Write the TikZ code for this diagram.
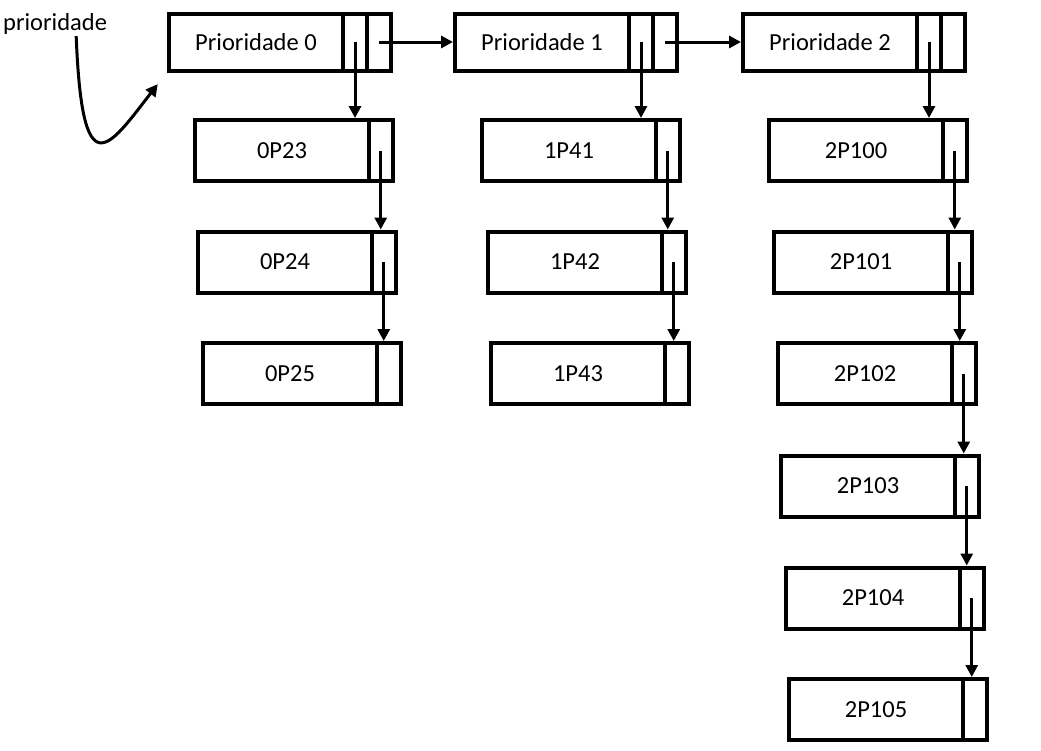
\documentclass[tikz,border=0pt]{standalone}
\usepackage{fontspec}
\setmainfont{Carlito}
\usetikzlibrary{positioning,calc,arrows.meta}
\tikzset{
	% estilos dos nós
	pri/.style = {rectangle, draw=black, line width=4pt,
	              outer sep=0pt, inner sep=0pt, anchor=west,
	              minimum width=174pt, minimum height=57pt,
	              font=\fontsize{24.5}{30}\selectfont},
	proc/.style = {pri, minimum height=61pt},
	hcel/.style = {rectangle, draw=black, line width=4pt,
	               outer sep=0pt, inner sep=0pt,
	               minimum width=24pt, minimum height=57pt},
	lcel/.style = {hcel, minimum width=23.5pt, minimum height=61pt},
	rotulo/.style = {inner sep=0pt, anchor=base west,
	                 font=\fontsize{24.5}{30}\selectfont},
	seta/.style = {line width=3pt, shorten >=2pt,
	               -{Triangle[length=12pt, width=12pt]}}
}
\begin{document}
\begin{tikzpicture}[x=1pt, y=-1pt]
	\useasboundingbox (0,0) rectangle (1041,750);

	\node (lbl) [rotulo] at (3,30) {prioridade};

	% cabeçalhos
	\node (pri0)  [pri] at (169,42) {Prioridade 0};
	\node (pri0a) [hcel, right=0pt of pri0]  {};
	\node (pri0b) [hcel, right=0pt of pri0a] {};
	\node (pri1)  [pri] at (455,42) {Prioridade 1};
	\node (pri1a) [hcel, right=0pt of pri1]  {};
	\node (pri1b) [hcel, right=0pt of pri1a] {};
	\node (pri2)  [pri] at (743,42) {Prioridade 2};
	\node (pri2a) [hcel, right=0pt of pri2]  {};
	\node (pri2b) [hcel, right=0pt of pri2a] {};

	% prioridade 0
	\node (p023)  [proc] at (195,150.5) {0P23};
	\node (p023c) [lcel, right=0pt of p023] {};
	\node (p024)  [proc] at (198,262)   {0P24};
	\node (p024c) [lcel, right=0pt of p024] {};
	\node (p025)  [proc] at (203,373.5) {0P25};
	\node (p025c) [lcel, right=0pt of p025] {};

	% prioridade 1
	\node (p141)  [proc] at (482,150.5) {1P41};
	\node (p141c) [lcel, right=0pt of p141] {};
	\node (p142)  [proc] at (488,262)   {1P42};
	\node (p142c) [lcel, right=0pt of p142] {};
	\node (p143)  [proc] at (491,373.5) {1P43};
	\node (p143c) [lcel, right=0pt of p143] {};

	% prioridade 2
	\node (p2100)  [proc] at (769,150.5) {2P100};
	\node (p2100c) [lcel, right=0pt of p2100] {};
	\node (p2101)  [proc] at (774,262)   {2P101};
	\node (p2101c) [lcel, right=0pt of p2101] {};
	\node (p2102)  [proc] at (778,373.5) {2P102};
	\node (p2102c) [lcel, right=0pt of p2102] {};
	\node (p2103)  [proc] at (781,486)   {2P103};
	\node (p2103c) [lcel, right=0pt of p2103] {};
	\node (p2104)  [proc] at (786,598)   {2P104};
	\node (p2104c) [lcel, right=0pt of p2104] {};
	\node (p2105)  [proc] at (789,709.5) {2P105};
	\node (p2105c) [lcel, right=0pt of p2105] {};

	% ligações
	\draw[seta] ([xshift=-31pt, yshift=-2pt]lbl.south east)
	    .. controls +(6,153) and +(-51,66) ..
	    ([xshift=-10pt, yshift=-12pt]pri0.south west);
	\draw[seta] (pri0b.center) -- (pri1.west);
	\draw[seta] (pri1b.center) -- (pri2.west);
	\draw[seta] (pri0a.center) -- (pri0a |- p023.north);
	\draw[seta] (pri1a.center) -- (pri1a |- p141.north);
	\draw[seta] (pri2a.center) -- (pri2a |- p2100.north);

	\draw[seta] (p023c.center) -- (p023c |- p024.north);
	\draw[seta] (p024c.center) -- (p024c |- p025.north);
	\draw[seta] (p141c.center) -- (p141c |- p142.north);
	\draw[seta] (p142c.center) -- (p142c |- p143.north);
	\draw[seta] (p2100c.center) -- (p2100c |- p2101.north);
	\draw[seta] (p2101c.center) -- (p2101c |- p2102.north);
	\draw[seta] (p2102c.center) -- (p2102c |- p2103.north);
	\draw[seta] (p2103c.center) -- (p2103c |- p2104.north);
	\draw[seta] (p2104c.center) -- (p2104c |- p2105.north);
\end{tikzpicture}
\end{document}
